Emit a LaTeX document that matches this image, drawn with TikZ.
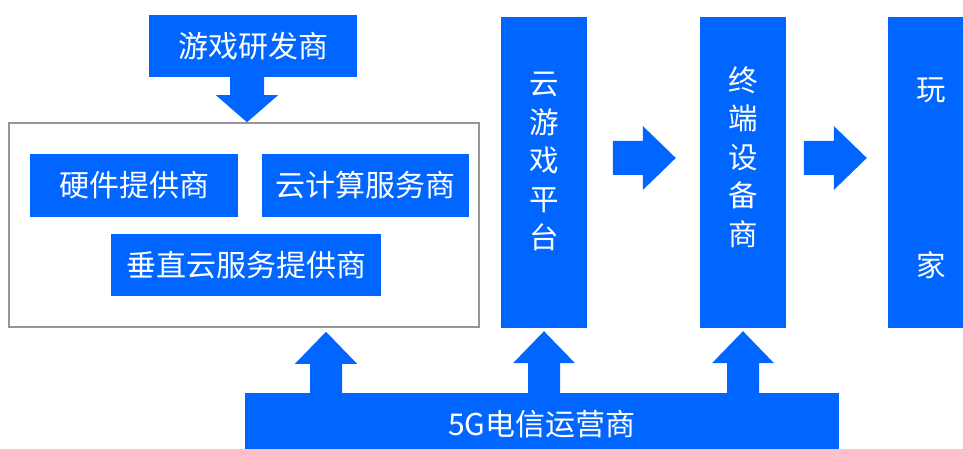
\documentclass[tikz,border=0pt]{standalone}
\usepackage{fontspec}
\setmainfont{Noto Sans CJK SC}
\usetikzlibrary{calc}
\definecolor{blu}{RGB}{0,102,255}
\definecolor{frame}{RGB}{150,150,150}
\newcommand\blockup[2]{\fill[blu,shift={(#1)}] (0,0) -- (31,32) -- (16,32) -- (16,#2) -- (-16,#2) -- (-16,32) -- (-31,32) -- cycle;}
\newcommand\blockdown[1]{\fill[blu,shift={(#1)}] (0,0) -- (31,-27) -- (17,-27) -- (17,-48) -- (-17,-48) -- (-17,-27) -- (-31,-27) -- cycle;}
\newcommand\blockright[1]{\fill[blu,shift={(#1)}] (0,0) -- (-33,-32) -- (-33,-17) -- (-63,-17) -- (-63,17) -- (-33,17) -- (-33,32) -- cycle;}
\begin{document}
\begin{tikzpicture}[x=1pt,y=-1pt,
  box/.style={fill=blu,text=white,inner sep=0pt,font=\fontsize{30}{38}\selectfont},
  vtext/.style={text=white,inner sep=0pt,align=center,font=\fontsize{29.5}{38.5}\selectfont},
  frm/.style={draw=frame,line width=1.5pt,fill=white}]
\useasboundingbox (0,0) rectangle (963,449);
% left group
\node[box,minimum width=208,minimum height=62] (dev) at (253,46) {游戏研发商};
\node[frm,minimum width=470,minimum height=204] (big) at (244,225) {};
\node[box,minimum width=208,minimum height=63] (hw) at (134,185.5) {硬件提供商};
\node[box,minimum width=207,minimum height=63] (cc) at (365.5,185.5) {云计算服务商};
\node[box,minimum width=270,minimum height=62] (vc) at (246,265) {垂直云服务提供商};
% columns
\node[box,minimum width=86,minimum height=311] (plat) at (544,172.5) {};
\node[vtext] (platT) at (544,161.5) {云\\游\\戏\\平\\台};
\node[box,minimum width=86,minimum height=311] (term) at (743,172.5) {};
\node[vtext] (termT) at (743,157) {终\\端\\设\\备\\商};
\node[box,minimum width=86,minimum height=311] (play) at (931,172.5) {};
\node[vtext] (playT1) at (931,90) {玩};
\node[vtext] (playT2) at (931,265) {家};
% bottom bar
\node[box,minimum width=594,minimum height=62] (g5) at (542,424) {5G电信运营商};
% arrows
\coordinate (dtip) at ($(big.north)+(3,0)$);
\blockdown{dtip}
\coordinate (u1) at ($(big.south)+(82,4)$);
\coordinate (u2) at ($(plat.south)+(0,3)$);
\coordinate (u3) at ($(term.south)+(0,3)$);
\blockup{u1}{64}
\blockup{u2}{64}
\blockup{u3}{64}
\coordinate (r1) at ($(term.west)+(-24,-14.5)$);
\coordinate (r2) at ($(play.west)+(-21,-14.5)$);
\blockright{r1}
\blockright{r2}
\end{tikzpicture}
\end{document}
